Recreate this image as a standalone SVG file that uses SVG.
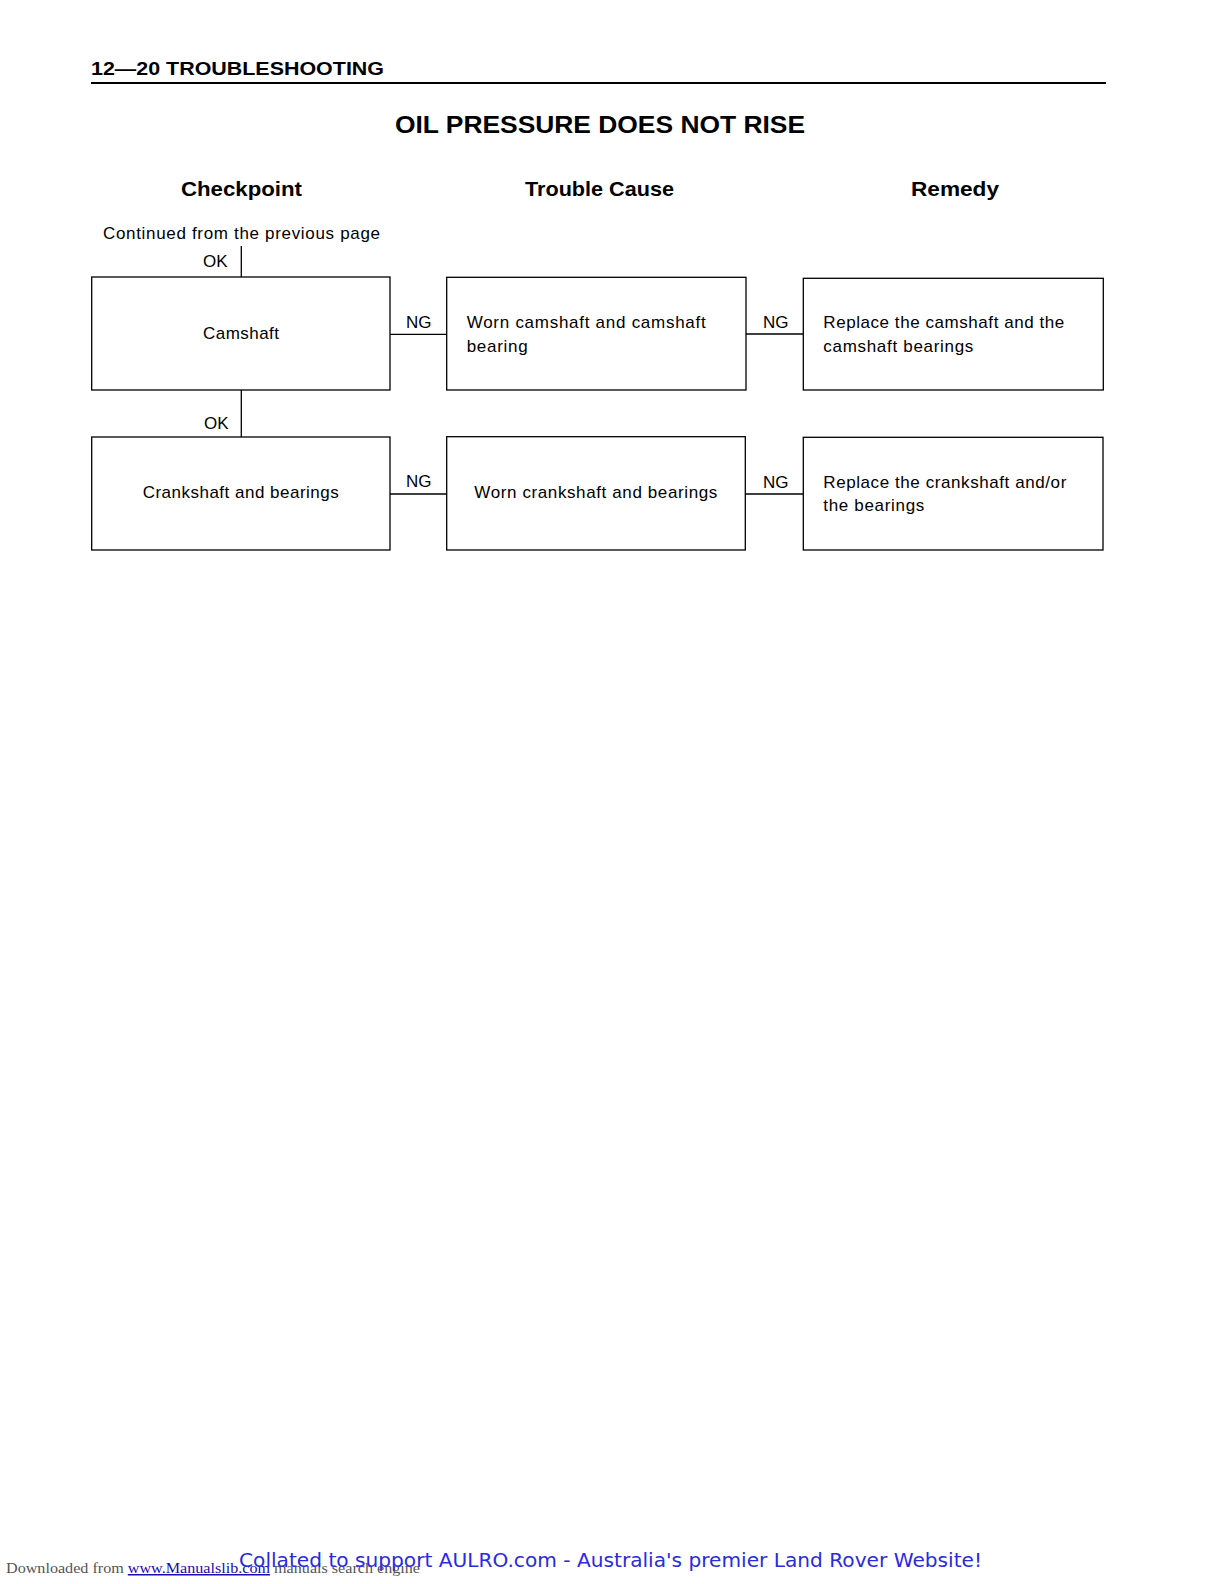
<svg xmlns="http://www.w3.org/2000/svg" width="1224" height="1584" viewBox="0 0 1224 1584">
<style>
.box{fill:#fff;stroke:#000;stroke-width:1.3}
.ln{stroke:#000;stroke-width:1.3;fill:none}
.t{font-family:"Liberation Sans",Arial,sans-serif;font-size:17px;fill:#000}
.h{font-family:"Liberation Sans",Arial,sans-serif;font-weight:bold;fill:#000}
</style>
<rect width="1224" height="1584" fill="#fff"/>
<text class="h" x="91" y="75" font-size="18.5" textLength="293" lengthAdjust="spacingAndGlyphs">12—20 TROUBLESHOOTING</text>
<line x1="91" y1="83" x2="1106" y2="83" stroke="#000" stroke-width="2.2"/>
<text class="h" x="395" y="133" font-size="23" textLength="410" lengthAdjust="spacingAndGlyphs">OIL PRESSURE DOES NOT RISE</text>
<text class="h" x="181" y="196" font-size="21" textLength="121" lengthAdjust="spacingAndGlyphs">Checkpoint</text>
<text class="h" x="525" y="196" font-size="21" textLength="149" lengthAdjust="spacingAndGlyphs">Trouble Cause</text>
<text class="h" x="911" y="196" font-size="21" textLength="88" lengthAdjust="spacingAndGlyphs">Remedy</text>
<text class="t" x="103" y="239" textLength="277" lengthAdjust="spacing">Continued from the previous page</text>
<g id="connectors">
<line class="ln" x1="241.3" y1="246" x2="241.3" y2="277"/>
<text class="t" x="203" y="267">OK</text>
<line class="ln" x1="241.3" y1="390" x2="241.3" y2="437"/>
<text class="t" x="204" y="429">OK</text>
<line class="ln" x1="390" y1="334.3" x2="446.7" y2="334.3"/>
<text class="t" x="406" y="328">NG</text>
<line class="ln" x1="746" y1="334" x2="803.3" y2="334"/>
<text class="t" x="763" y="328">NG</text>
<line class="ln" x1="390" y1="494" x2="446.7" y2="494"/>
<text class="t" x="406" y="487">NG</text>
<line class="ln" x1="745.3" y1="494" x2="803.3" y2="494"/>
<text class="t" x="763" y="487.5">NG</text>
</g>
<g id="camshaft">
<rect class="box" x="91.7" y="277" width="298.3" height="113"/>
<text class="t" x="241" y="339.3" text-anchor="middle" textLength="76" lengthAdjust="spacing">Camshaft</text>
</g>
<g id="crankshaft">
<rect class="box" x="91.7" y="437" width="298.3" height="113"/>
<text class="t" x="142.7" y="498.3" textLength="196" lengthAdjust="spacing">Crankshaft and bearings</text>
</g>
<g id="worn-camshaft">
<rect class="box" x="446.7" y="277.3" width="299.3" height="112.7"/>
<text class="t" x="466.7" y="328.3" textLength="239" lengthAdjust="spacing">Worn camshaft and camshaft</text>
<text class="t" x="466.7" y="351.7" textLength="61" lengthAdjust="spacing">bearing</text>
</g>
<g id="worn-crankshaft">
<rect class="box" x="446.7" y="436.7" width="298.6" height="113.3"/>
<text class="t" x="474.3" y="498.3" textLength="243" lengthAdjust="spacing">Worn crankshaft and bearings</text>
</g>
<g id="replace-camshaft">
<rect class="box" x="803.3" y="278.3" width="300" height="111.7"/>
<text class="t" x="823.3" y="328.3" textLength="241" lengthAdjust="spacing">Replace the camshaft and the</text>
<text class="t" x="823.3" y="351.7" textLength="150" lengthAdjust="spacing">camshaft bearings</text>
</g>
<g id="replace-crankshaft">
<rect class="box" x="803.3" y="437.3" width="299.7" height="112.7"/>
<text class="t" x="823.3" y="488.3" textLength="243" lengthAdjust="spacing">Replace the crankshaft and/or</text>
<text class="t" x="823.3" y="510.7" textLength="101" lengthAdjust="spacing">the bearings</text>
</g>
<text x="6" y="1573" font-family="Liberation Serif,serif" font-size="15" fill="#555" textLength="414" lengthAdjust="spacingAndGlyphs">Downloaded from <tspan fill="#1a0dab" text-decoration="underline">www.Manualslib.com</tspan> manuals search engine</text>
<text x="239" y="1567" font-family="DejaVu Sans,sans-serif" font-size="19" fill="#2a2ae0" textLength="743" lengthAdjust="spacingAndGlyphs">Collated to support AULRO.com - Australia's premier Land Rover Website!</text>
</svg>
